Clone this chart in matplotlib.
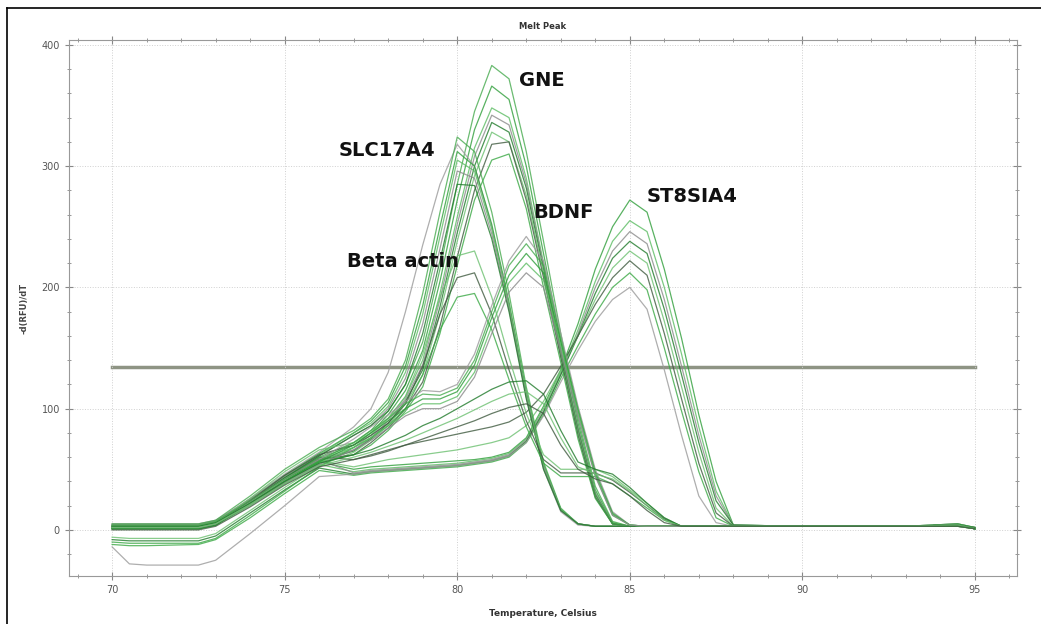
import numpy as np
import matplotlib
matplotlib.use("Agg")
import matplotlib.pyplot as plt
from matplotlib.lines import Line2D

# temperature points (Celsius) shared by every melt curve
temps = [70, 70.5, 71, 72.5, 73, 74, 75, 76,
         77, 77.5, 78, 78.5, 79, 79.5, 80, 80.5, 81, 81.5, 82, 82.5, 83, 83.5,
         84, 84.5, 85, 85.5, 86, 86.5, 87, 87.5, 88, 90, 93, 94.5, 95]

# -d(RFU)/dT curves, one row per well
st8sia4 = [
    [3, 3, 3, 3, 6, 23, 40, 56, 50, 52, 53, 54, 55, 56, 57, 58, 60, 64, 76, 102, 132, 170, 215, 250, 272, 262, 215, 158, 95, 40, 4, 3, 3, 5, 2],
    [1, 1, 1, 1, 4, 20, 38, 54, 48, 50, 51, 52, 53, 54, 55, 57, 59, 63, 75, 100, 130, 165, 205, 238, 255, 246, 200, 145, 85, 32, 4, 3, 3, 4, 2],
    [5, 5, 5, 5, 8, 25, 42, 58, 47, 49, 50, 51, 52, 53, 54, 56, 58, 62, 74, 98, 128, 162, 200, 230, 246, 236, 190, 135, 78, 28, 4, 3, 3, 4, 1],
    [-8, -9, -9, -9, -5, 14, 33, 51, 46, 48, 49, 50, 51, 52, 53, 55, 57, 61, 73, 97, 128, 160, 195, 224, 238, 228, 182, 128, 72, 24, 4, 3, 3, 4, 1],
    [2, 2, 2, 2, 5, 22, 40, 57, 52, 55, 58, 60, 62, 64, 66, 69, 72, 76, 86, 106, 132, 160, 190, 216, 230, 220, 172, 118, 64, 18, 3, 3, 3, 4, 1],
    [4, 4, 4, 4, 7, 24, 43, 60, 58, 62, 66, 70, 73, 76, 79, 82, 85, 89, 97, 112, 135, 160, 186, 208, 222, 210, 162, 108, 55, 14, 3, 3, 3, 3, 1],
    [-12, -13, -13, -12, -8, 10, 30, 49, 45, 47, 48, 49, 50, 51, 52, 54, 56, 60, 72, 95, 125, 152, 178, 200, 212, 198, 150, 98, 48, 10, 3, 3, 3, 3, 1],
    [-14, -28, -29, -29, -25, -3, 20, 44, 46, 48, 49, 50, 51, 52, 53, 55, 57, 61, 72, 94, 122, 148, 172, 190, 200, 182, 132, 78, 28, 6, 3, 3, 3, 3, 1],
]
gne = [
    [2, 2, 2, 2, 5, 24, 43, 60, 72, 82, 98, 120, 155, 215, 285, 345, 383, 372, 312, 238, 162, 92, 36, 7, 3, 3, 3, 3, 3, 3, 3, 3, 3, 4, 1],
    [3, 3, 3, 3, 6, 23, 42, 59, 70, 80, 95, 115, 148, 205, 272, 330, 366, 355, 300, 228, 155, 88, 33, 6, 3, 3, 3, 3, 3, 3, 3, 3, 3, 4, 1],
    [1, 1, 1, 1, 4, 22, 41, 58, 68, 78, 92, 110, 140, 195, 258, 315, 348, 340, 290, 220, 150, 85, 31, 6, 3, 3, 3, 3, 3, 3, 3, 3, 3, 4, 1],
    [4, 4, 4, 4, 7, 24, 42, 58, 66, 76, 90, 108, 136, 190, 252, 308, 342, 334, 286, 218, 148, 84, 30, 5, 3, 3, 3, 3, 3, 3, 3, 3, 3, 5, 2],
    [2, 2, 2, 2, 5, 22, 40, 57, 65, 75, 88, 106, 132, 184, 245, 300, 336, 328, 282, 215, 146, 82, 29, 5, 3, 3, 3, 3, 3, 3, 3, 3, 3, 4, 1],
    [-6, -7, -7, -7, -3, 16, 35, 53, 64, 74, 86, 104, 128, 178, 238, 292, 328, 320, 276, 212, 144, 80, 28, 5, 3, 3, 3, 3, 3, 3, 3, 3, 3, 4, 1],
    [3, 3, 3, 3, 6, 24, 42, 58, 62, 72, 84, 100, 122, 168, 225, 280, 318, 320, 272, 208, 142, 78, 27, 5, 3, 3, 3, 3, 3, 3, 3, 3, 3, 4, 2],
    [1, 1, 1, 1, 4, 21, 39, 56, 62, 70, 82, 98, 118, 162, 218, 272, 305, 310, 265, 200, 138, 75, 26, 5, 3, 3, 3, 3, 3, 3, 3, 3, 3, 4, 1],
]
slc17a4 = [
    [4, 4, 4, 4, 7, 26, 46, 64, 85, 100, 130, 180, 235, 285, 318, 300, 250, 185, 110, 50, 15, 4, 3, 3, 3, 3, 3, 3, 3, 3, 3, 3, 3, 4, 1],
    [5, 5, 5, 5, 8, 28, 50, 68, 82, 92, 108, 140, 195, 262, 324, 312, 262, 195, 118, 56, 18, 5, 3, 3, 3, 3, 3, 3, 3, 3, 3, 3, 3, 4, 1],
    [3, 3, 3, 3, 6, 25, 45, 63, 80, 90, 105, 135, 185, 250, 312, 300, 252, 188, 114, 54, 17, 5, 3, 3, 3, 3, 3, 3, 3, 3, 3, 3, 3, 5, 2],
    [2, 2, 2, 2, 5, 24, 44, 62, 80, 88, 102, 130, 178, 242, 305, 296, 248, 185, 112, 53, 17, 5, 3, 3, 3, 3, 3, 3, 3, 3, 3, 3, 3, 4, 1],
    [3, 3, 3, 3, 6, 25, 44, 61, 78, 86, 100, 125, 170, 232, 296, 290, 244, 182, 110, 52, 16, 5, 3, 3, 3, 3, 3, 3, 3, 3, 3, 3, 3, 4, 1],
    [1, 1, 1, 1, 4, 23, 43, 61, 78, 86, 98, 120, 162, 222, 285, 284, 240, 180, 108, 50, 16, 5, 3, 3, 3, 3, 3, 3, 3, 3, 3, 3, 3, 4, 1],
]
beta_actin = [
    [3, 3, 3, 3, 6, 26, 48, 66, 72, 80, 92, 110, 145, 192, 226, 230, 192, 142, 96, 62, 50, 50, 50, 44, 33, 22, 10, 3, 3, 3, 3, 3, 3, 4, 1],
    [2, 2, 2, 2, 5, 24, 45, 62, 70, 78, 88, 104, 135, 178, 208, 212, 178, 132, 90, 58, 47, 47, 47, 41, 31, 20, 9, 3, 3, 3, 3, 3, 3, 4, 1],
    [-10, -11, -11, -11, -7, 12, 32, 52, 68, 76, 86, 100, 128, 165, 192, 195, 165, 124, 85, 55, 44, 44, 44, 38, 28, 18, 8, 3, 3, 3, 3, 3, 3, 3, 1],
]
bdnf = [
    [2, 2, 2, 2, 5, 23, 42, 58, 75, 85, 95, 106, 115, 114, 120, 145, 185, 222, 242, 222, 162, 102, 50, 15, 4, 3, 3, 3, 3, 3, 3, 3, 3, 4, 1],
    [4, 4, 4, 4, 7, 24, 42, 57, 72, 82, 92, 104, 112, 111, 117, 140, 180, 218, 236, 218, 158, 100, 48, 14, 4, 3, 3, 3, 3, 3, 3, 3, 3, 4, 1],
    [1, 1, 1, 1, 4, 22, 40, 56, 70, 80, 90, 100, 108, 108, 114, 136, 175, 210, 228, 212, 155, 98, 46, 13, 4, 3, 3, 3, 3, 3, 3, 3, 3, 4, 1],
    [3, 3, 3, 3, 6, 22, 40, 55, 68, 76, 86, 96, 104, 104, 110, 130, 168, 204, 220, 206, 152, 96, 45, 12, 4, 3, 3, 3, 3, 3, 3, 3, 3, 4, 1],
    [2, 2, 2, 2, 5, 21, 39, 54, 66, 74, 84, 94, 100, 100, 106, 126, 162, 196, 212, 200, 148, 94, 44, 12, 4, 3, 3, 3, 3, 3, 3, 3, 3, 4, 1],
]
low_hump = [
    [3, 3, 3, 3, 6, 22, 40, 55, 62, 66, 72, 78, 86, 92, 100, 108, 116, 122, 123, 112, 82, 56, 50, 46, 35, 22, 10, 3, 3, 3, 3, 3, 3, 4, 1],
    [2, 2, 2, 2, 5, 21, 38, 53, 60, 64, 69, 74, 80, 86, 92, 99, 106, 112, 114, 104, 76, 52, 46, 42, 32, 20, 8, 3, 3, 3, 3, 3, 3, 4, 1],
    [0, 0, 0, 0, 3, 19, 37, 52, 58, 61, 65, 70, 75, 80, 85, 90, 96, 101, 104, 96, 70, 50, 42, 38, 28, 16, 6, 3, 3, 3, 3, 3, 3, 3, 1],
]

groups = [st8sia4, gne, slc17a4, beta_actin, bdnf, low_hump]
threshold = 134
threshold_span = [70, 95]

gene_labels = ["GNE", "SLC17A4", "BDNF", "ST8SIA4", "Beta actin"]
label_x = [81.8, 76.55, 82.2, 85.5, 76.8]
label_y = [371, 313, 262, 275, 221]

palette = ["#2f9e3a", "#5cbc63", "#8a8a8a", "#1f7a2a", "#6cc070", "#3f5a3f", "#3aa844", "#9a9a9a", "#46aa4e"]

fig = plt.figure(figsize=(10.41, 6.24), dpi=100)
ax = fig.add_axes([69 / 1041, 1 - 576 / 624, (1017 - 69) / 1041, (576 - 40) / 624])

k = 0
for grp in groups:
    for row in grp:
        ax.plot(temps, row, color=palette[k % len(palette)], lw=0.9, alpha=0.8)
        k += 1

ax.plot(threshold_span, [threshold, threshold], color="#8e9484", lw=2.5, zorder=1)

for name, x, y in zip(gene_labels, label_x, label_y):
    ax.text(x, y, name, fontsize=14, fontweight="bold", color="#111111", va="center", ha="left")

ax.set_xlim(68.75, 96.22)
ax.set_ylim(-38, 404)
ax.set_xticks([70, 75, 80, 85, 90, 95])
ax.set_xticks(np.arange(69, 97), minor=True)
ax.set_yticks([0, 100, 200, 300, 400])
ax.set_yticks(np.arange(-20, 401, 20), minor=True)
ax.tick_params(which="both", direction="inout", top=True, right=True, color="#888888",
               labelsize=7, labelcolor="#555555")
ax.tick_params(which="major", length=6)
ax.tick_params(which="minor", length=3)
for s in ax.spines.values():
    s.set_color("#999999")
    s.set_linewidth(0.8)
ax.grid(True, which="major", linestyle=":", color="#d0d0d0", lw=0.7)

ax.set_title("Melt Peak", fontsize=6, fontweight="bold", color="#333333", pad=8)
ax.set_xlabel("Temperature, Celsius", fontsize=6.5, fontweight="bold", color="#333333", labelpad=10)
ax.set_ylabel("-d(RFU)/dT", fontsize=6, fontweight="bold", color="#444444", labelpad=9)

# outer frame of the figure
fig.add_artist(Line2D([7 / 1041, 7 / 1041], [0, 1 - 8 / 624], color="black", lw=1.2))
fig.add_artist(Line2D([7 / 1041, 1], [1 - 8 / 624, 1 - 8 / 624], color="black", lw=1.2))

fig.savefig("out.png", dpi=100, facecolor="white")
